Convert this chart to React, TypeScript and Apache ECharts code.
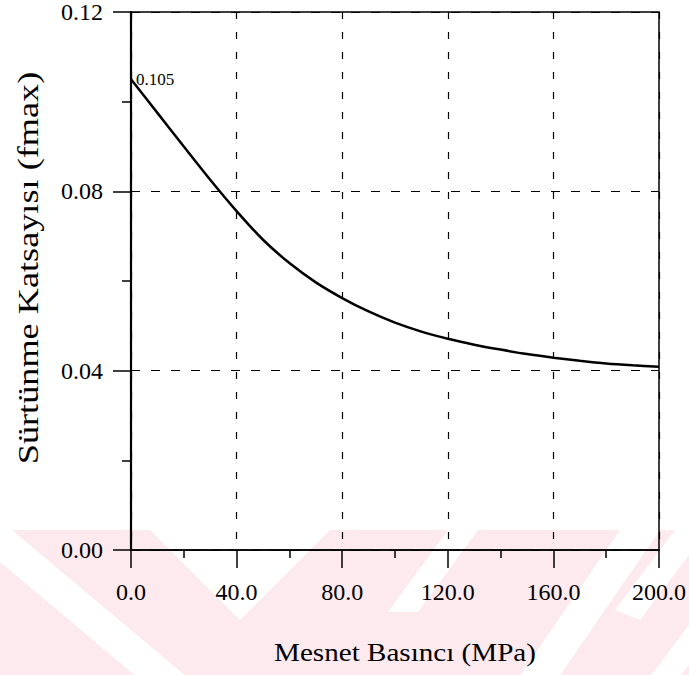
import React, { useEffect, useRef } from "react";
import * as echarts from "echarts";

const pressure = [0, 10, 20, 30, 40, 50, 60, 70, 80, 90, 100, 110, 120, 130, 140, 150, 160, 170, 180, 190, 200];
const friction = [0.105, 0.0975, 0.09, 0.0826, 0.0756, 0.0692, 0.064, 0.0597, 0.0562, 0.0532, 0.0507, 0.0487, 0.0471, 0.0458, 0.0447, 0.0437, 0.0429, 0.0422, 0.0416, 0.0412, 0.0409];
const startLabel = "0.105";
const xTitle = "Mesnet Basıncı (MPa)";
const yTitle = "Sürtünme Katsayısı (fmax)";

const SERIF = "'Liberation Serif', 'DejaVu Serif', serif";
const PINK = "#fdeaee";

export default function App() {
  const ref = useRef<HTMLDivElement>(null);
  useEffect(() => {
    document.body.style.margin = "0";
    const chart = echarts.init(ref.current!, undefined, { renderer: "svg" });
    const data = pressure.map((x, i) => [x, friction[i]]);
    chart.setOption({
      animation: false,
      backgroundColor: "#fff",
      graphic: {
        elements: [
          { type: "rect", z: -10, shape: { x: 0, y: 530, width: 689, height: 145 }, style: { fill: PINK } },
          { type: "polygon", z: -9, shape: { points: [[150, 530], [330, 530], [240, 620]] }, style: { fill: "#fff" } },
          { type: "polygon", z: -9, shape: { points: [[0, 520], [200, 688], [200, 730], [0, 562]] }, style: { fill: "#fff" } },
          { type: "polygon", z: -9, shape: { points: [[388, 612], [448, 530], [478, 530], [418, 612]] }, style: { fill: "#fff" } },
          { type: "polygon", z: -9, shape: { points: [[510, 690], [620, 530], [660, 530], [550, 690]] }, style: { fill: "#fff" } },
          { type: "polygon", z: -9, shape: { points: [[615, 610], [675, 530], [700, 530], [700, 540], [640, 620]] }, style: { fill: "#fff" } },
          { type: "polygon", z: -9, shape: { points: [[640, 690], [700, 610], [700, 650], [670, 690]] }, style: { fill: "#fff" } },
          {
            type: "text",
            x: 28,
            y: 268,
            rotation: Math.PI / 2,
            scaleX: 1.25,
            style: { text: yTitle, font: `29px ${SERIF}`, fill: "#000", align: "center", verticalAlign: "middle" },
          },
          {
            type: "text",
            x: 405,
            y: 652,
            scaleX: 1.12,
            style: { text: xTitle, font: `26px ${SERIF}`, fill: "#000", align: "center", verticalAlign: "middle" },
          },
        ],
      },
      grid: { left: 131, right: 26, top: 10, bottom: 125, show: true, borderColor: "#000", borderWidth: 1.5, backgroundColor: "transparent" },
      xAxis: {
        type: "value",
        min: 0,
        max: 200,
        interval: 40,
        axisLine: { show: true, lineStyle: { color: "#000", width: 1.5 } },
        axisTick: { show: true, length: 18, lineStyle: { color: "#000", width: 1.5 } },
        minorTick: { show: true, splitNumber: 2, length: 8, lineStyle: { color: "#000", width: 1.5 } },
        axisLabel: { fontFamily: SERIF, fontSize: 24, color: "#000", margin: 30, formatter: (v: number) => v.toFixed(1) },
        splitLine: { show: true, lineStyle: { color: "#000", width: 1.2, type: [7, 13] } },
      },
      yAxis: {
        type: "value",
        min: 0,
        max: 0.12,
        interval: 0.04,
        axisLine: { show: true, lineStyle: { color: "#000", width: 2.2 } },
        axisTick: { show: true, length: 18, lineStyle: { color: "#000", width: 1.5 } },
        minorTick: { show: true, splitNumber: 2, length: 9, lineStyle: { color: "#000", width: 1.5 } },
        axisLabel: { fontFamily: SERIF, fontSize: 24, color: "#000", margin: 28, formatter: (v: number) => v.toFixed(2) },
        splitLine: { show: true, lineStyle: { color: "#000", width: 1.2, type: [9, 11] } },
      },
      series: [
        {
          type: "line",
          data,
          showSymbol: false,
          symbol: "none",
          smooth: 0.3,
          lineStyle: { color: "#000", width: 2.5 },
          z: 5,
          markPoint: {
            symbol: "circle",
            symbolSize: 0,
            silent: true,
            data: [
              {
                coord: [pressure[0], friction[0]],
                label: { show: true, formatter: startLabel, position: "right", distance: 5, fontFamily: SERIF, fontSize: 17, color: "#000" },
              },
            ],
          },
        },
      ],
    });
    return () => chart.dispose();
  }, []);
  return <div ref={ref} style={{ width: 689, height: 675 }} />;
}
